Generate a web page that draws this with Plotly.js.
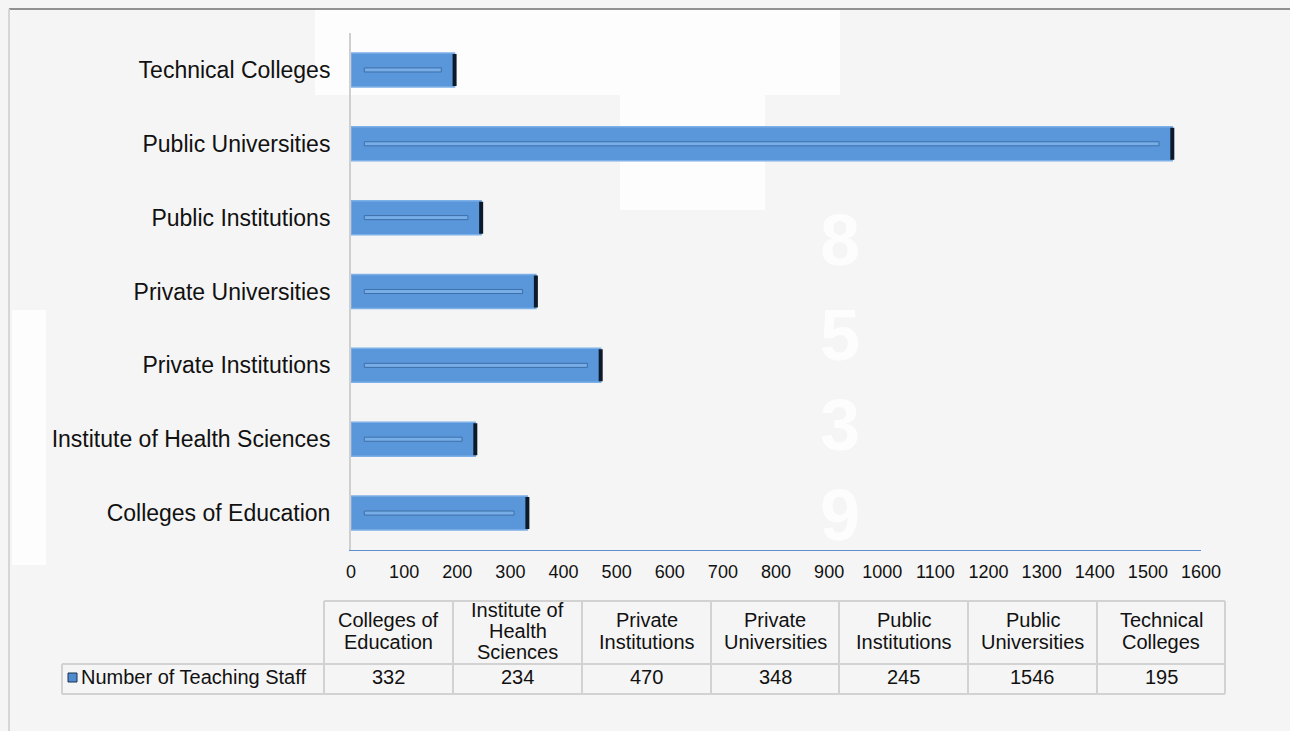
<!DOCTYPE html>
<html>
<head>
<meta charset="utf-8">
<script src="https://cdn.plot.ly/plotly-3.0.1.min.js"></script>
<style>
  html, body { margin: 0; padding: 0; background: #f5f5f5; }
  #chart { width: 1290px; height: 731px; }
</style>
</head>
<body>
<div id="chart"></div>
<script>
// ---- data ----
const categories = [
  'Colleges of Education',
  'Institute of Health Sciences',
  'Private Institutions',
  'Private Universities',
  'Public Institutions',
  'Public Universities',
  'Technical Colleges'
];
const teachingStaff = [332, 234, 470, 348, 245, 1546, 195];
const seriesName = 'Number of Teaching Staff';
const tableHeaderLabels = [
  ['Colleges of', 'Education'],
  ['Institute of', 'Health', 'Sciences'],
  ['Private', 'Institutions'],
  ['Private', 'Universities'],
  ['Public', 'Institutions'],
  ['Public', 'Universities'],
  ['Technical', 'Colleges']
];
const xTickValues = [0, 100, 200, 300, 400, 500, 600, 700, 800, 900, 1000, 1100, 1200, 1300, 1400, 1500, 1600];
const watermarkDigits = ['8', '5', '3', '9'];

// ---- layout geometry (px) ----
const W = 1290, H = 731;
const mL = 351, mR = 89, mT = 33, mB = 181;
const plotW = W - mL - mR, plotH = H - mT - mB;
function px2x(p) { return (p - mL) / plotW; }
function px2y(p) { return (H - mB - p) / plotH; }

const FONT = 'Liberation Sans, Arial, Helvetica, sans-serif';
const barWidth = 0.46;

const mainBars = {
  type: 'bar',
  orientation: 'h',
  y: categories,
  x: teachingStaff,
  name: seriesName,
  width: barWidth,
  marker: { color: '#5a97da', line: { color: '#7db0e8', width: 1.5 } },
  error_x: { type: 'data', array: teachingStaff.map(() => 0), symmetric: true,
             color: '#0c1a2b', thickness: 4, width: 16 },
  hoverinfo: 'x+y',
  showlegend: false
};

const innerLine = {
  type: 'bar',
  orientation: 'h',
  y: categories,
  base: teachingStaff.map(() => 25),
  x: teachingStaff.map(v => v - 50),
  width: 0.055,
  marker: { color: '#78aee8', line: { color: '#3d6fa8', width: 1 } },
  hoverinfo: 'skip',
  showlegend: false
};

// ---- data table (grid + text), built from the arrays above ----
const colEdges = [62, 324, 453, 582, 711, 839, 968, 1097, 1225];
const tHeadTop = 601, tHeadBot = 664, tRowBot = 694;
const gridColor = '#d2d2d2';
const shapes = [];
const annotations = [];

// decorative white background blocks
[[315, 840, 9, 95], [620, 765, 95, 210], [12, 46, 310, 565]].forEach(r => {
  shapes.push({ type: 'rect', xref: 'paper', yref: 'paper', layer: 'below',
    x0: px2x(r[0]), x1: px2x(r[1]), y0: px2y(r[3]), y1: px2y(r[2]),
    fillcolor: 'rgba(255,255,255,0.8)', line: { width: 0 } });
});
// frame
shapes.push({ type: 'line', xref: 'paper', yref: 'paper',
  x0: px2x(9), x1: px2x(1290), y0: px2y(9), y1: px2y(9), line: { color: '#6f6f6f', width: 1.5 } });
shapes.push({ type: 'line', xref: 'paper', yref: 'paper',
  x0: px2x(9), x1: px2x(9), y0: px2y(9), y1: px2y(731), line: { color: '#d6d6d6', width: 2 } });

// table horizontal lines
shapes.push({ type: 'line', xref: 'paper', yref: 'paper',
  x0: px2x(colEdges[1]), x1: px2x(colEdges[colEdges.length - 1]), y0: px2y(tHeadTop), y1: px2y(tHeadTop),
  line: { color: gridColor, width: 2 } });
[tHeadBot, tRowBot].forEach(yy => shapes.push({ type: 'line', xref: 'paper', yref: 'paper',
  x0: px2x(colEdges[0]), x1: px2x(colEdges[colEdges.length - 1]), y0: px2y(yy), y1: px2y(yy),
  line: { color: gridColor, width: 2 } }));
// table vertical lines
colEdges.forEach((cx, i) => shapes.push({ type: 'line', xref: 'paper', yref: 'paper',
  x0: px2x(cx), x1: px2x(cx), y0: px2y(i === 0 ? tHeadBot : tHeadTop), y1: px2y(tRowBot),
  line: { color: gridColor, width: 2 } }));

const tableFont = { family: FONT, size: 20, color: '#111' };
const lineStep = 21;
const rowMid = (tHeadBot + tRowBot) / 2 - 2;
tableHeaderLabels.forEach((lines, i) => {
  const cx = (colEdges[i + 1] + colEdges[i + 2]) / 2;
  const mid = (tHeadTop + tHeadBot) / 2 - 1.5;
  lines.forEach((ln, k) => {
    const cy = mid + (k - (lines.length - 1) / 2) * lineStep;
    annotations.push({ xref: 'paper', yref: 'paper', x: px2x(cx), y: px2y(cy),
      text: ln, showarrow: false, xanchor: 'center', yanchor: 'middle', font: tableFont });
  });
  annotations.push({ xref: 'paper', yref: 'paper', x: px2x(cx), y: px2y(rowMid),
    text: String(teachingStaff[i]), showarrow: false, xanchor: 'center', yanchor: 'middle', font: tableFont });
});
// legend key + series name
annotations.push({ xref: 'paper', yref: 'paper', x: px2x(79), y: px2y(rowMid),
  text: seriesName, showarrow: false, xanchor: 'left', yanchor: 'middle', font: tableFont });
shapes.push({ type: 'rect', xref: 'paper', yref: 'paper',
  x0: px2x(68), x1: px2x(77), y0: px2y(682), y1: px2y(673),
  fillcolor: '#4f8bd0', line: { color: '#1d3350', width: 1 } });

// watermark digits
const wmX = 840;
const wmY = [240, 335, 425, 515];
watermarkDigits.forEach((d, i) => annotations.push({
  xref: 'paper', yref: 'paper', x: px2x(wmX), y: px2y(wmY[i]),
  text: '<b>' + d + '</b>', showarrow: false,
  font: { family: FONT, size: 72, color: 'rgba(255,255,255,0.8)' },
  xanchor: 'center', yanchor: 'middle'
}));

const layout = {
  width: W, height: H,
  margin: { l: mL, r: mR, t: mT, b: mB, pad: 0 },
  paper_bgcolor: '#f5f5f5',
  plot_bgcolor: 'rgba(0,0,0,0)',
  barmode: 'overlay',
  showlegend: false,
  font: { family: FONT, color: '#111' },
  xaxis: {
    range: [0, 1600],
    tickvals: xTickValues,
    ticktext: xTickValues.map(String),
    showgrid: false, zeroline: false,
    showline: true, linecolor: '#5b8fd0', linewidth: 1,
    ticks: 'outside', ticklen: 5, tickcolor: 'rgba(0,0,0,0)',
    tickfont: { family: FONT, size: 18, color: '#111' },
    fixedrange: true
  },
  yaxis: {
    type: 'category',
    categoryorder: 'array', categoryarray: categories,
    range: [-0.5, categories.length - 0.5],
    showgrid: false, zeroline: false,
    showline: true, linecolor: '#cfcfcf', linewidth: 2,
    ticks: 'outside', ticklen: 14, tickcolor: 'rgba(0,0,0,0)',
    tickfont: { family: FONT, size: 23, color: '#111' },
    fixedrange: true
  },
  annotations: annotations,
  shapes: shapes
};

Plotly.newPlot('chart', [mainBars, innerLine], layout, { displayModeBar: false, staticPlot: true });
</script>
</body>
</html>
